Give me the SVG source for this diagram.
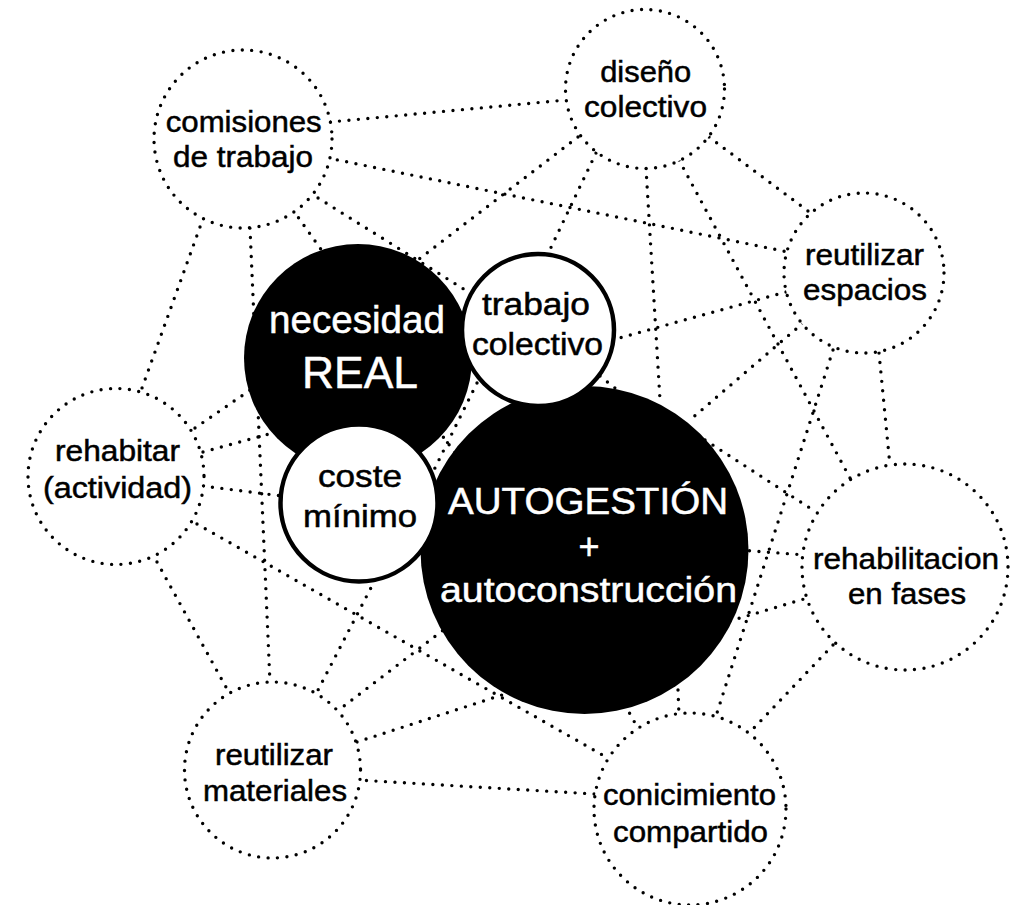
<svg xmlns="http://www.w3.org/2000/svg" width="1013" height="905" viewBox="0 0 1013 905">
<style>
.dot{fill:none;stroke:#000;stroke-width:3.4;stroke-linecap:round;stroke-dasharray:0 9.5}
.oc{fill:#fff;stroke:#000;stroke-width:3.4;stroke-linecap:round;stroke-dasharray:0 9.5}
.t{font-family:"Liberation Sans",Arial,sans-serif;text-anchor:middle;fill:#000;stroke:#000;stroke-width:0.5}
.o{font-size:30px}
.w{fill:#fff;stroke:#fff}
.blk{fill:#000}
.wc{fill:#fff;stroke:#000;stroke-width:4.5}
</style>
<rect width="1013" height="905" fill="#fff"/>
<g id="connectors">
<line class="dot" x1="330" y1="122" x2="566" y2="100"/>
<line class="dot" x1="328" y1="158" x2="788" y2="252"/>
<line class="dot" x1="310" y1="193" x2="470" y2="293"/>
<line class="dot" x1="293" y1="210" x2="330" y2="262"/>
<line class="dot" x1="250" y1="228" x2="270" y2="683"/>
<line class="dot" x1="200" y1="227" x2="142" y2="388"/>
<line class="dot" x1="578" y1="137" x2="410" y2="266"/>
<line class="dot" x1="596" y1="153" x2="545" y2="260"/>
<line class="dot" x1="646" y1="168" x2="660" y2="400"/>
<line class="dot" x1="679" y1="160" x2="850" y2="478"/>
<line class="dot" x1="709" y1="137" x2="812" y2="214"/>
<line class="dot" x1="786" y1="292" x2="612" y2="340"/>
<line class="dot" x1="803" y1="323" x2="690" y2="420"/>
<line class="dot" x1="833" y1="350" x2="716" y2="716"/>
<line class="dot" x1="879" y1="353" x2="890" y2="466"/>
<line class="dot" x1="195" y1="428" x2="256" y2="386"/>
<line class="dot" x1="203" y1="452" x2="280" y2="431"/>
<line class="dot" x1="203" y1="486" x2="282" y2="496"/>
<line class="dot" x1="197" y1="524" x2="606" y2="757"/>
<line class="dot" x1="157" y1="562" x2="227" y2="689"/>
<line class="dot" x1="375" y1="580" x2="317" y2="692"/>
<line class="dot" x1="450" y1="625" x2="340" y2="709"/>
<line class="dot" x1="357" y1="742" x2="505" y2="694"/>
<line class="dot" x1="357" y1="780" x2="595" y2="794"/>
<line class="dot" x1="740" y1="550" x2="805" y2="555"/>
<line class="dot" x1="705" y1="440" x2="813" y2="510"/>
<line class="dot" x1="730" y1="621" x2="804" y2="599"/>
<line class="dot" x1="833" y1="645" x2="752" y2="730"/>
<line class="dot" x1="678" y1="690" x2="679" y2="716"/>
<line class="dot" x1="625" y1="705" x2="640" y2="732"/>
<line class="dot" x1="477" y1="383" x2="430" y2="478"/>
<line class="dot" x1="432" y1="422" x2="462" y2="462"/>
<line class="dot" x1="600" y1="376" x2="630" y2="400"/>
</g>
<g id="comisiones">
<circle class="oc" cx="243" cy="139" r="89"/>
<text class="t o" x="243.7" y="132" textLength="156" lengthAdjust="spacingAndGlyphs">comisiones</text>
<text class="t o" x="243" y="167" textLength="140" lengthAdjust="spacingAndGlyphs">de trabajo</text>
</g>
<g id="diseno">
<circle class="oc" cx="645" cy="89" r="79.5"/>
<text class="t o" x="645.7" y="82" textLength="91" lengthAdjust="spacingAndGlyphs">diseño</text>
<text class="t o" x="645.5" y="117" textLength="123" lengthAdjust="spacingAndGlyphs">colectivo</text>
</g>
<g id="reutilizar-espacios">
<circle class="oc" cx="864" cy="273" r="80"/>
<text class="t o" x="864.5" y="265" textLength="119" lengthAdjust="spacingAndGlyphs">reutilizar</text>
<text class="t o" x="865" y="300" textLength="124" lengthAdjust="spacingAndGlyphs">espacios</text>
</g>
<g id="rehabitar">
<circle class="oc" cx="116" cy="476.5" r="88"/>
<text class="t o" x="117.5" y="461" textLength="125" lengthAdjust="spacingAndGlyphs">rehabitar</text>
<text class="t o" x="117.5" y="498" textLength="149" lengthAdjust="spacingAndGlyphs">(actividad)</text>
</g>
<g id="reutilizar-materiales">
<circle class="oc" cx="272.5" cy="770" r="88"/>
<text class="t o" x="274" y="765" textLength="118" lengthAdjust="spacingAndGlyphs">reutilizar</text>
<text class="t o" x="275" y="801" textLength="144" lengthAdjust="spacingAndGlyphs">materiales</text>
</g>
<g id="conicimiento">
<circle class="oc" cx="690" cy="809" r="96"/>
<text class="t o" x="689.5" y="805" textLength="173" lengthAdjust="spacingAndGlyphs">conicimiento</text>
<text class="t o" x="690.5" y="842" textLength="155" lengthAdjust="spacingAndGlyphs">compartido</text>
</g>
<g id="rehabilitacion">
<circle class="oc" cx="905" cy="567" r="103"/>
<text class="t o" x="906" y="569" textLength="186" lengthAdjust="spacingAndGlyphs">rehabilitacion</text>
<text class="t o" x="907" y="604" textLength="118" lengthAdjust="spacingAndGlyphs">en fases</text>
</g>
<g id="necesidad">
<circle class="blk" cx="358" cy="358" r="114"/>
<text class="t w" x="357" y="333" font-size="38" textLength="176" lengthAdjust="spacingAndGlyphs">necesidad</text>
<text class="t w" x="360" y="388" font-size="44" textLength="116" lengthAdjust="spacingAndGlyphs">REAL</text>
</g>
<g id="autogestion">
<circle class="blk" cx="584.5" cy="550" r="164"/>
<text class="t w" x="588" y="514" font-size="36" textLength="280" lengthAdjust="spacingAndGlyphs">AUTOGESTIÓN</text>
<text class="t w" x="589" y="559" font-size="36">+</text>
<text class="t w" x="588.5" y="602" font-size="35" textLength="297" lengthAdjust="spacingAndGlyphs">autoconstrucción</text>
</g>
<g id="trabajo-colectivo">
<circle class="wc" cx="538" cy="330" r="76"/>
<text class="t" x="536" y="315" font-size="31" textLength="108" lengthAdjust="spacingAndGlyphs">trabajo</text>
<text class="t" x="537.5" y="355" font-size="31" textLength="131" lengthAdjust="spacingAndGlyphs">colectivo</text>
</g>
<g id="coste-minimo">
<circle class="wc" cx="359" cy="503" r="78.5" stroke-width="5"/>
<text class="t" x="360" y="487" font-size="32" textLength="84" lengthAdjust="spacingAndGlyphs">coste</text>
<text class="t" x="360" y="527" font-size="32" textLength="114" lengthAdjust="spacingAndGlyphs">mínimo</text>
</g>
</svg>
